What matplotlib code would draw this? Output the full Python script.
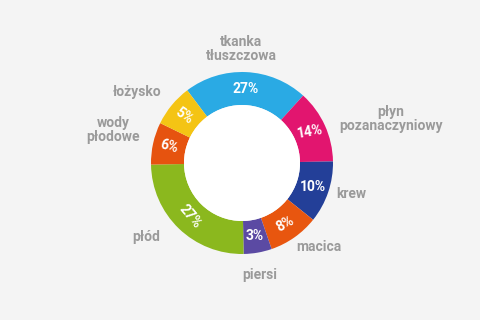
import numpy as np
import matplotlib.pyplot as plt
from matplotlib.patches import Circle

plt.rcParams["font.family"] = ["Roboto", "DejaVu Sans"]

# skladniki przyrostu masy w ciazy
nazwy = ["tkanka\ntłuszczowa", "płyn\npozanaczyniowy", "krew", "macica",
         "piersi", "płód", "wody\npłodowe", "łożysko"]
procenty = ["27%", "14%", "10%", "8%", "3%", "27%", "6%", "5%"]
# wielkosc lukow (nie sa dokladnie proporcjonalne do etykiet)
udzialy = [22, 13, 11, 9, 5, 25, 7.5, 7.5]
kolory = ["#2aaae4", "#e2156f", "#233f98", "#e8560f",
          "#5b4aa3", "#8bb81e", "#e6530f", "#f4c414"]

fig = plt.figure(figsize=(4.8, 3.2), dpi=100)
fig.patch.set_facecolor("#f4f4f4")
ax = fig.add_axes([0, 0, 1, 1])

cx, cy = 242, 157
r_out, r_in = 91, 58
wedges, _ = ax.pie(udzialy, colors=kolory, startangle=127, counterclock=False,
                   radius=r_out, center=(cx, cy), frame=True,
                   wedgeprops=dict(width=r_out - r_in, edgecolor="none"))
ax.set_xlim(0, 480)
ax.set_ylim(0, 320)
ax.set_aspect("equal")
ax.axis("off")
ax.add_patch(Circle((cx, cy), r_in, facecolor="white", edgecolor="none", zorder=3))

# obroty napisow procentowych jak na oryginale
obroty = [0, 10, 0, 30, 0, -50, -15, -35]
r_mid = (r_out + r_in) / 2
for w, txt, rot in zip(wedges, procenty, obroty):
    a = np.deg2rad((w.theta1 + w.theta2) / 2)
    ax.text(cx + r_mid * np.cos(a), cy + r_mid * np.sin(a), txt,
            color="white", fontsize=10, fontweight="bold",
            ha="center", va="center", rotation=rot, zorder=4)

# etykiety zewnetrzne (pozycje w pikselach obrazka)
pozycje = [(241, 49), (391, 119), (351, 194), (319, 247),
           (260, 275), (146, 237), (113, 130), (137, 92)]
for nazwa, (px, py) in zip(nazwy, pozycje):
    ax.text(px, 320 - py, nazwa, color="#9a9a9a", fontsize=10,
            fontweight="bold", ha="center", va="center", linespacing=1.0)

fig.savefig("out.png", dpi=100, facecolor=fig.get_facecolor())
